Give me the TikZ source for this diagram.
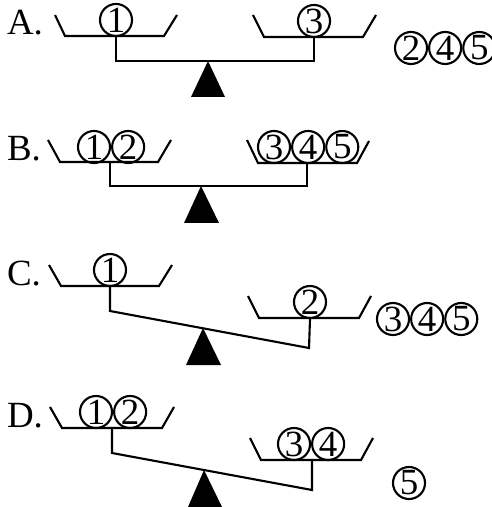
\documentclass[tikz,border=0pt]{standalone}
\usepackage{fontspec}
\setmainfont{Liberation Serif}
\usetikzlibrary{positioning}

\begin{document}
\begin{tikzpicture}[x=0.01cm,y=-0.01cm,line width=0.6pt,
  ball/.style={circle,draw,inner sep=0pt,minimum size=0.32cm,font=\fontsize{10.5}{12}\selectfont},
  tag/.style={anchor=west,inner sep=0pt,font=\fontsize{10.5}{12}\selectfont}]
\useasboundingbox (0,0) rectangle (492,507);
% A
\node[tag] (tA) at (6,23) {A.};
\draw (55,15)--(65,36)--(164,36)--(177,15);
\draw (253,15)--(264,37)--(363,37)--(376,15);
\node[ball] (a1) at (116,20) {1};
\node[ball] (a3) at (314,21) {3};
\coordinate (aL) at (116,61);
\coordinate (aR) at (314,61);
\draw (a1.south)--(aL)--(aR)--(a3.south);
\fill (208,61)--(191,97)--(225,97)--cycle;
\node[ball] (a2) at (411,48) {2};
\node[ball,right=0pt of a2] (a4) {4};
\node[ball,right=0pt of a4] (a5) {5};
% B
\node[tag] (tB) at (6,149) {B.};
\draw (48,140)--(60,162)--(158,162)--(171,140);
\draw (247,140)--(258,163)--(357,163)--(369,141);
\node[ball] (b1) at (94,147) {1};
\node[ball,right=0pt of b1] (b2) {2};
\node[ball] (b3) at (274,147) {3};
\node[ball,right=0pt of b3] (b4) {4};
\node[ball,right=0pt of b4] (b5) {5};
\coordinate (bL) at (110,186);
\coordinate (bR) at (307,186);
\draw (110,162)--(bL)--(bR)--(307,163);
\fill (201,186)--(184,223)--(219,223)--cycle;
% C
\node[tag] (tC) at (6,274) {C.};
\draw (49,265)--(61,286)--(159,286)--(172,265);
\draw (248,296)--(259,318)--(359,318)--(371,296);
\node[ball] (c1) at (110,270) {1};
\node[ball] (c2) at (310,302) {2};
\coordinate (cL) at (110,311);
\coordinate (cR) at (309,348);
\draw (c1.south)--(cL)--(cR)--(c2.south);
\fill (203,328)--(186,365)--(221,365)--cycle;
\node[ball] (c3) at (393,319) {3};
\node[ball,right=0pt of c3] (c4) {4};
\node[ball,right=0pt of c4] (c5) {5};
% D
\node[tag] (tD) at (6,416) {D.};
\draw (50,407)--(62,428)--(162,428)--(174,407);
\draw (250,438)--(261,460)--(361,460)--(373,438);
\node[ball] (d1) at (96,412) {1};
\node[ball,right=0pt of d1] (d2) {2};
\node[ball] (d3) at (294,444) {3};
\node[ball,right=0pt of d3] (d4) {4};
\coordinate (dL) at (112,453);
\coordinate (dR) at (312,490);
\draw (112,428)--(dL)--(dR)--(312,460);
\fill (204,470)--(188,507)--(222,507)--cycle;
\node[ball] (d5) at (409,483) {5};
\end{tikzpicture}
\end{document}
